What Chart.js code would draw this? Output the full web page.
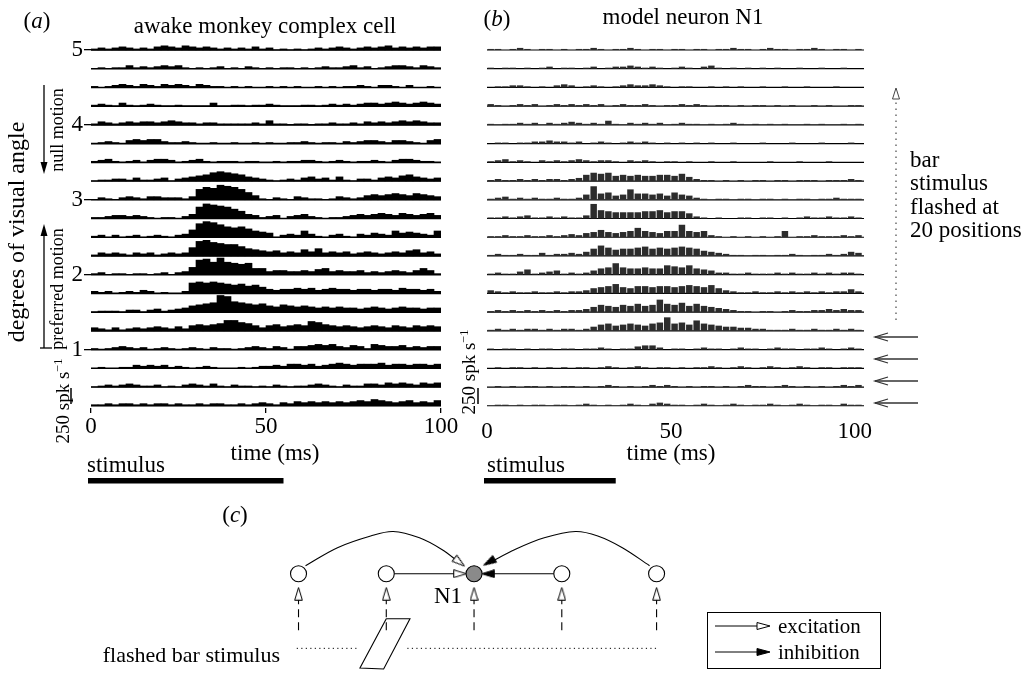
<!DOCTYPE html>
<html>
<head>
<meta charset="utf-8">
<script src="https://cdn.jsdelivr.net/npm/chart.js@4.4.1/dist/chart.umd.min.js"></script>
<style>
body { margin: 0; background: #fff; width: 1029px; height: 679px; position: relative; overflow: hidden;
       font-family: "Liberation Serif", "Times New Roman", serif; color: #000; }
canvas { position: absolute; }
.lbl { position: absolute; white-space: nowrap; line-height: 1.15; }
.lbl sup { font-size: 0.65em; vertical-align: 0.55em; line-height: 0; }
svg { position: absolute; left: 0; top: 0; }
</style>
</head>
<body>
<canvas id="chartA" width="470" height="500" style="left:0;top:0"></canvas>
<canvas id="chartB" width="410" height="500" style="left:470px;top:0"></canvas>
<canvas id="chartC" width="751" height="179" style="left:149px;top:500px"></canvas>

<svg width="1029" height="679">
  <!-- null / preferred motion arrows -->
  <line x1="44" y1="85" x2="44" y2="164" stroke="#000" stroke-width="1.3"/>
  <polygon points="40.5,162 47.5,162 44,174" fill="#000"/>
  <line x1="44" y1="348" x2="44" y2="234" stroke="#000" stroke-width="1.3"/>
  <polygon points="40.5,236 47.5,236 44,224" fill="#000"/>
  <line x1="40" y1="348" x2="52" y2="348" stroke="#000" stroke-width="1.3"/>
  <!-- 250 spk/s scale bars -->
  <line x1="71" y1="388" x2="71" y2="404" stroke="#000" stroke-width="1.5"/>
  <line x1="478" y1="388" x2="478" y2="404" stroke="#000" stroke-width="1.5"/>
  <!-- dotted arrow: bar flashed at 20 positions -->
  <line x1="896" y1="320" x2="896" y2="96" stroke="#555" stroke-width="1.3" stroke-dasharray="1.5 4.5"/>
  <polygon points="892.5,99 896,88 899.5,99" fill="#fff" stroke="#444" stroke-width="1"/>
  <!-- arrows pointing at the four flanking rows -->
  <g stroke="#333" stroke-width="1.3" fill="none">
    <line x1="875" y1="337" x2="918" y2="337"/><polyline points="888,333 875,337 888,341"/>
    <line x1="875" y1="359" x2="918" y2="359"/><polyline points="888,355 875,359 888,363"/>
    <line x1="875" y1="381" x2="918" y2="381"/><polyline points="888,377 875,381 888,385"/>
    <line x1="875" y1="403" x2="918" y2="403"/><polyline points="888,399 875,403 888,407"/>
  </g>
  <!-- legend of panel c -->
  <rect x="707.5" y="612.5" width="173" height="56" fill="none" stroke="#000" stroke-width="1"/>
  <line x1="715" y1="626" x2="758" y2="626" stroke="#000" stroke-width="1"/>
  <polygon points="757,622.5 770,626 757,629.5" fill="#fff" stroke="#000" stroke-width="1"/>
  <line x1="715" y1="652" x2="758" y2="652" stroke="#000" stroke-width="1"/>
  <polygon points="757,648.5 770,652 757,655.5" fill="#000" stroke="#000" stroke-width="1"/>
</svg>

<script>
// ---------------- data ----------------
const binMs = 2;                       // PSTH bin width (ms)
const positionsDeg = [5.00, 4.75, 4.50, 4.25, 4.00, 3.75, 3.50, 3.25, 3.00, 2.75,
                      2.50, 2.25, 2.00, 1.75, 1.50, 1.25, 1.00, 0.75, 0.50, 0.25];
const timeTicks = [0, 50, 100];
const degreeTicks = [1, 2, 3, 4, 5];
const stimulusA = [0, 55];             // stimulus on/off (ms)
const stimulusB = [0, 35];

// (a) awake monkey complex cell, firing rate (spk/s) per 2 ms bin, one array per bar position
const mk500 = [15,30,15,30,45,30,15,30,15,45, 60,45,30,60,45,30,45,30,15,30, 15,30,15,45,15,30,0,15,0,15, 0,15,30,15,30,45,30,15,30,45, 30,45,60,30,45,30,45,30,45,45];
const mk475 = [0,15,0,15,15,45,15,30,15,30, 45,30,45,15,0,15,0,15,30,0, 15,0,30,15,0,15,0,15,15,0, 15,0,15,30,15,15,30,45,15,30, 0,15,30,45,45,30,15,45,30,15];
const mk450 = [15,0,15,30,45,30,15,45,30,15, 45,30,45,30,15,45,30,15,15,0, 15,0,15,0,0,15,0,15,0,15, 0,0,15,0,15,0,15,15,30,15, 0,30,30,15,0,30,0,0,15,0];
const mk425 = [15,30,15,0,45,15,0,15,30,15, 0,0,15,0,0,0,0,45,0,0, 15,15,0,15,15,30,15,0,0,0, 15,15,0,15,30,15,30,15,30,45, 45,30,45,60,45,30,45,60,45,30];
const mk400 = [15,45,30,15,30,45,30,45,45,30, 45,60,45,30,30,15,30,30,15,15, 15,15,15,30,15,60,15,15,0,15, 15,0,15,15,30,15,15,30,15,45, 30,45,30,45,60,45,60,45,30,30];
const mk375 = [0,15,30,15,0,45,60,45,60,60, 30,15,15,30,15,0,0,15,0,0, 15,0,0,15,0,15,0,0,15,15, 30,15,0,15,15,0,30,15,30,45, 45,30,15,45,45,30,15,0,45,60];
const mk350 = [15,30,45,15,0,15,30,0,30,45, 45,30,0,15,30,45,15,0,15,15, 15,0,15,15,0,0,15,0,15,15, 30,30,15,0,15,30,15,0,15,15, 30,15,0,30,45,45,30,15,15,0];
const mk325 = [0,15,15,30,30,15,45,15,15,30, 45,0,30,45,60,75,90,120,135,120, 105,90,60,45,30,15,0,15,30,15, 45,60,30,45,15,60,15,0,30,30, 15,45,60,45,75,90,60,45,30,45];
const mk300 = [0,30,15,0,30,45,30,15,45,45, 30,30,30,15,45,150,180,165,210,195, 180,150,105,60,15,0,30,15,0,45, 30,15,15,0,15,45,30,15,30,60, 75,60,75,90,75,60,90,75,60,45];
const mk275 = [15,15,30,45,45,30,45,30,15,0, 15,15,0,30,60,165,210,195,180,165, 135,105,60,45,15,30,45,0,30,45, 60,30,15,0,15,15,30,45,60,45, 60,75,60,45,75,60,45,60,75,45];
const mk250 = [15,30,0,30,0,15,30,0,15,30, 15,0,30,45,105,195,225,210,180,150, 135,150,120,90,75,60,0,30,45,30, 90,45,15,0,30,45,15,0,45,30, 60,45,30,90,60,75,60,45,30,90];
const mk225 = [15,45,30,45,30,15,45,30,45,15, 30,45,30,45,120,210,225,195,180,165, 165,135,105,90,75,60,75,45,60,45, 90,60,105,45,60,45,60,30,45,60, 45,30,45,60,45,75,90,45,60,30];
const mk200 = [15,30,0,15,15,0,15,15,0,15, 30,0,30,45,105,210,225,180,240,180, 165,150,165,90,90,45,60,60,45,45, 60,45,75,90,45,60,45,45,60,30, 45,30,45,60,45,30,60,90,60,15];
const mk175 = [30,15,30,0,15,30,15,45,30,0, 15,0,0,30,150,165,150,165,150,135, 120,135,105,120,90,60,45,60,60,75, 60,75,45,60,75,60,60,45,60,60, 45,60,60,45,75,60,60,45,60,30];
const mk150 = [0,15,15,15,0,30,30,0,30,45, 15,30,45,60,90,105,120,135,240,225, 150,135,120,105,120,90,75,105,90,75, 90,75,60,75,60,75,60,60,45,60, 75,60,45,60,75,60,60,45,60,60];
const mk125 = [45,30,15,45,15,30,45,30,45,60, 45,30,60,30,75,90,75,90,105,150, 150,120,105,75,45,75,90,60,75,90, 75,135,120,90,75,60,75,60,45,60, 75,60,45,75,60,45,75,60,75,60];
const mk100 = [15,0,15,30,45,30,15,30,0,15, 30,15,0,15,30,15,0,30,15,15, 0,15,30,45,30,15,45,30,0,45, 45,60,75,60,75,45,30,60,45,15, 75,60,45,45,60,30,45,30,45,45];
const mk075 = [0,15,0,0,15,15,45,30,45,30, 45,15,30,15,0,15,30,15,0,0, 0,15,0,15,30,30,45,30,60,60, 45,60,30,45,60,75,60,45,60,60, 60,75,45,60,60,45,60,60,45,60];
const mk050 = [0,15,30,15,30,45,30,15,15,30, 0,15,0,30,45,30,15,45,15,0, 30,15,15,0,15,0,30,15,0,15, 15,30,45,30,15,0,30,15,15,45, 45,30,60,45,60,45,30,60,45,60];
const mk025 = [15,15,30,15,30,30,15,30,15,30, 30,15,30,15,15,30,15,30,30,15, 15,30,15,30,45,30,15,45,30,60, 45,60,45,60,45,60,45,60,75,60, 90,75,60,45,60,75,45,60,45,75];

// (b) model neuron N1, firing rate (spk/s) per 2 ms bin (0-102 ms)
const md500 = [15,15,0,15,30,15,0,15,15,0, 15,0,15,15,30,15,0,15,15,30, 15,0,15,15,0,15,15,0,15,15, 0,15,15,30,15,15,0,15,30,15, 15,0,15,15,30,15,0,15,15,0, 15];
const md475 = [15,0,15,15,0,15,0,15,30,0, 15,15,0,15,30,0,15,30,30,45, 30,15,30,15,0,15,30,15,0,30, 45,15,0,15,0,15,0,15,0,15, 0,0,15,0,0,15,0,0,15,0, 0];
const md450 = [0,15,15,30,30,15,0,15,0,30, 45,30,0,15,30,15,0,15,30,45, 30,30,45,30,15,0,15,15,0,0, 15,0,15,0,15,0,0,15,0,0, 15,0,0,15,0,0,0,15,0,0, 0];
const md425 = [30,15,0,15,30,15,30,0,15,30, 15,30,15,30,15,30,0,15,30,15, 15,30,15,0,15,15,30,15,30,15, 0,15,15,0,15,0,15,15,0,15, 0,15,0,0,15,0,15,0,0,15, 15];
const md400 = [15,0,15,15,30,15,30,0,30,15, 30,45,30,15,30,15,60,15,0,30, 15,30,15,30,0,15,30,15,15,0, 15,0,15,30,15,0,15,0,15,0, 15,0,0,15,0,15,0,0,15,0, 15];
const md375 = [0,15,15,0,15,15,30,30,45,30, 30,15,30,0,15,30,15,0,15,30, 15,30,15,0,15,0,15,0,15,0, 15,0,0,15,0,0,0,15,0,0, 0,15,0,0,0,15,0,0,0,15, 0];
const md350 = [15,30,45,15,30,15,0,30,15,30, 15,30,45,30,15,30,30,15,0,30, 15,30,15,0,15,15,0,15,0,0, 15,0,0,15,0,0,0,0,15,0, 0,0,15,0,0,0,15,0,0,0, 0];
const md325 = [15,30,15,15,30,15,30,15,30,30, 15,30,45,90,120,105,120,75,90,75, 90,75,75,90,90,75,105,60,30,15, 15,0,15,0,15,0,15,15,0,15, 15,0,15,15,15,0,15,15,15,30, 15];
const md300 = [15,30,45,15,30,15,30,15,15,30, 15,15,30,75,195,90,105,60,75,150, 90,90,75,90,60,105,75,60,30,15, 0,15,15,0,15,15,0,15,15,0, 15,0,15,15,0,15,15,30,15,15, 15];
const md275 = [15,15,30,15,30,45,15,15,30,15, 30,15,15,45,210,120,105,90,90,90, 90,105,105,120,90,105,105,75,30,15, 0,15,0,0,15,15,0,15,15,0, 15,0,15,30,15,15,30,15,15,30, 15];
const md250 = [15,15,30,15,15,30,15,15,30,15, 30,45,30,60,75,105,75,60,75,90, 135,90,75,60,90,90,180,90,75,90, 30,15,0,15,0,15,0,15,0,15, 90,0,15,15,30,15,15,15,30,15, 30];
const md225 = [15,30,15,15,30,15,15,45,15,30, 30,45,30,60,105,150,120,90,105,105, 120,135,105,120,105,120,135,120,105,75, 60,45,30,15,15,0,15,15,0,15, 15,30,15,0,15,15,30,15,30,60, 45];
const md200 = [15,30,15,15,45,75,15,30,45,60, 15,30,15,30,60,90,105,165,105,90, 90,105,90,90,135,120,105,135,90,75, 60,30,30,15,15,30,15,15,15,30, 15,30,15,15,30,15,30,15,30,30, 15];
const md175 = [45,30,15,30,15,15,30,15,15,30, 15,30,30,45,75,90,105,135,90,75, 105,105,90,105,105,90,105,120,105,90, 120,75,45,30,15,15,30,15,15,30, 15,30,15,30,15,30,15,30,30,60, 30];
const md150 = [15,30,15,30,15,30,15,30,15,30, 15,30,30,45,75,105,90,75,105,90, 120,90,105,180,120,105,135,90,120,90, 75,60,45,30,15,15,0,15,15,0, 15,30,15,15,30,30,45,30,45,30, 30];
const md125 = [15,30,15,30,15,30,30,15,30,15, 30,30,15,30,60,90,105,75,90,105, 90,75,105,120,195,105,120,90,150,105, 90,75,60,60,45,45,30,30,15,15, 15,30,15,15,30,15,15,30,15,30, 15];
const md100 = [15,0,15,15,0,15,0,15,15,0, 15,15,0,15,15,30,15,0,15,15, 45,60,60,30,0,15,15,0,15,30, 15,15,0,15,30,15,15,0,15,30, 15,15,0,15,15,30,15,0,15,30, 15];
const md075 = [0,15,0,15,15,0,15,0,15,0, 15,0,15,15,0,15,30,15,0,15, 30,15,0,15,15,0,15,0,15,15, 30,15,0,15,30,15,0,15,30,15, 0,15,30,15,0,15,15,0,15,15, 15];
const md050 = [0,15,0,15,0,15,15,0,15,0, 15,15,0,15,0,15,30,15,0,15, 0,15,30,15,30,15,0,15,0,15, 15,0,15,0,15,30,15,15,0,15, 30,15,0,15,0,15,0,15,30,15, 30];
const md025 = [0,15,15,0,15,0,15,15,0,15, 15,0,15,30,15,0,15,0,15,30, 15,0,30,45,30,15,15,0,15,30, 15,0,15,30,15,0,15,15,30,15, 0,15,30,15,0,15,15,0,30,15, 15];

const monkeyRows = [mk500, mk475, mk450, mk425, mk400, mk375, mk350, mk325, mk300, mk275,
                    mk250, mk225, mk200, mk175, mk150, mk125, mk100, mk075, mk050, mk025];
const modelRows  = [md500, md475, md450, md425, md400, md375, md350, md325, md300, md275,
                    md250, md225, md200, md175, md150, md125, md100, md075, md050, md025];

// (c) circuit diagram, x in node spacings from N1, y in node-row units
const nodeX = [-2, -1, 0, 1, 2.08];
const nodeY = [0, 0, 0, 0, 0];
const excArcX = [-1.92, -1.556, -1.178, -0.922, -0.622, -0.367, -0.16];
const excArcY = [0.18, 0.58, 0.84, 0.94, 0.80, 0.54, 0.24];
const inhArcX = [0.18, 0.467, 0.80, 1.156, 1.41, 1.69, 2.0];
const inhArcY = [0.25, 0.54, 0.80, 0.94, 0.84, 0.58, 0.18];
const excLineX = [-0.91, -0.16];
const inhLineX = [0.91, 0.16];
const inputTopY = -0.5;
const inputBottomY = -1.32;
const stimLineY = -1.66;
const stimLeftX = [-2.02, -1.34];
const stimRightX = [-0.76, 2.11];
const barShapeX = [-1.0, -0.73, -1.03, -1.3, -1.0];
const barShapeY = [-1.0, -1.0, -2.12, -2.1, -1.0];

// ---------------- helpers ----------------
const SERIF = "'Liberation Serif', 'Times New Roman', serif";
const SPK_PER_ROW = 270;               // rate that spans one row spacing (0.25 deg)

function histogramPoints(rows)
{
    const pts = [];
    rows.forEach((vals, i) => {
        const base = positionsDeg[i];
        vals.forEach((v, k) => {
            pts.push({ x: k * binMs + binMs / 2, y: [base, base + v / SPK_PER_ROW * 0.25] });
        });
    });
    return pts;
}

function baselinePoints(xEnd)
{
    const pts = [];
    positionsDeg.forEach(base => {
        pts.push({ x: 0, y: base }, { x: xEnd, y: base }, { x: xEnd, y: null });
    });
    return pts;
}

function stimulusPlugin(stim)
{
    return {
        id: "stimulusBar",
        afterDraw(chart)
        {
            const x = chart.scales.x;
            const ctx = chart.ctx;
            const x0 = x.getPixelForValue(stim[0]) - 3;
            const x1 = x.getPixelForValue(stim[1]);
            ctx.save();
            ctx.fillStyle = "#000";
            ctx.fillRect(x0, 478, x1 - x0, 5.5);
            ctx.restore();
        }
    };
}

function psthChart(canvasId, rows, xMax, stim, opts)
{
    return new Chart(document.getElementById(canvasId), {
        type: "bar",
        data: {
            datasets: [
                {
                    type: "bar",
                    data: histogramPoints(rows),
                    backgroundColor: opts.barColor,
                    borderWidth: 0,
                    barPercentage: opts.barPct,
                    categoryPercentage: 1,
                    grouped: false
                },
                {
                    type: "line",
                    data: baselinePoints(xMax),
                    borderColor: "#000",
                    borderWidth: opts.lineWidth,
                    pointRadius: 0,
                    spanGaps: false
                }
            ]
        },
        options: {
            responsive: false,
            animation: false,
            events: [],
            layout: { padding: opts.padding },
            plugins: { legend: { display: false }, tooltip: { enabled: false } },
            scales: {
                x: {
                    type: "linear",
                    min: 0,
                    max: xMax,
                    offset: false,
                    afterBuildTicks: s => { s.ticks = timeTicks.map(v => ({ value: v })); },
                    afterFit: s => { s.height = 60; },
                    border: { display: false },
                    grid: {
                        display: opts.xTickMarks,
                        offset: false,
                        drawOnChartArea: false,
                        tickLength: 5,
                        color: "#000",
                        lineWidth: 1.3
                    },
                    ticks: {
                        color: "#000",
                        padding: opts.xTickPad,
                        maxRotation: 0,
                        font: { family: SERIF, size: 23 }
                    }
                },
                y: {
                    type: "linear",
                    min: 0.22,
                    max: 5.12,
                    display: opts.showY,
                    afterBuildTicks: s => { s.ticks = degreeTicks.map(v => ({ value: v })); },
                    afterFit: s => { s.width = opts.showY ? 91 : 0; },
                    border: { display: false },
                    grid: { drawOnChartArea: false, tickLength: 7, color: "#000", lineWidth: 1.3 },
                    ticks: { color: "#000", padding: 1, font: { family: SERIF, size: 23 } }
                }
            }
        },
        plugins: [stimulusPlugin(stim)]
    });
}

psthChart("chartA", monkeyRows, 100, stimulusA, {
    lineWidth: 1.6, barColor: "#000", barPct: 1, xTickMarks: true, xTickPad: 0, showY: true,
    padding: { left: 0, right: 29, top: 41, bottom: 32 }
});

psthChart("chartB", modelRows, 102.5, stimulusB, {
    lineWidth: 1.2, barColor: "#2c2c2c", barPct: 0.88, xTickMarks: false, xTickPad: 5, showY: false,
    padding: { left: 17, right: 16, top: 41, bottom: 32 }
});

// ---------------- panel c: circuit ----------------
function arrowHead(filled)
{
    const c = document.createElement("canvas");
    c.width = 9; c.height = 14;
    const g = c.getContext("2d");
    g.beginPath();
    g.moveTo(4.5, 0.7);
    g.lineTo(8.3, 13.3);
    g.lineTo(0.7, 13.3);
    g.closePath();
    g.fillStyle = filled ? "#000" : "#fff";
    g.fill();
    g.lineWidth = 1;
    g.strokeStyle = "#000";
    g.stroke();
    return c;
}
const openHead = arrowHead(false);
const solidHead = arrowHead(true);

const xy = (xs, ys) => xs.map((x, i) => ({ x, y: Array.isArray(ys) ? ys[i] : ys }));
const line = (data, extra) => Object.assign({
    type: "line", data, showLine: true, borderColor: "#000", borderWidth: 1.1,
    pointRadius: 0, tension: 0, fill: false
}, extra);

// first dataset is drawn on top: neurons, then arrow heads, then connections
const circuitSets = [];
circuitSets.push({
    type: "scatter",
    data: xy(nodeX, nodeY),
    pointStyle: "circle",
    pointRadius: 8,
    borderWidth: 1.1,
    borderColor: "#000",
    backgroundColor: nodeX.map(x => x === 0 ? "#8a8a8a" : "#fff")
});
circuitSets.push({
    type: "scatter",
    data: [
        { x: -0.166, y: 0.258 },
        { x: -0.159, y: 0 }
    ].concat(nodeX.map(x => ({ x, y: -0.446 }))),
    pointStyle: openHead,
    rotation: [128, 90, 0, 0, 0, 0, 0],
    pointRadius: 7
});
circuitSets.push({
    type: "scatter",
    data: [
        { x: 0.172, y: 0.26 },
        { x: 0.159, y: 0 }
    ],
    pointStyle: solidHead,
    rotation: [240, 270],
    pointRadius: 7
});
circuitSets.push(line(xy(excArcX, excArcY), { tension: 0.35 }));
circuitSets.push(line(xy(inhArcX, inhArcY), { tension: 0.35 }));
circuitSets.push(line(xy(excLineX, 0)));
circuitSets.push(line(xy(inhLineX, 0)));
nodeX.forEach(x => {
    circuitSets.push(line(xy([x, x], [inputTopY, inputBottomY]), { borderDash: [8, 5] }));
});
circuitSets.push(line(xy(stimLeftX, stimLineY), { borderDash: [1.2, 3.3], borderWidth: 1 }));
circuitSets.push(line(xy(stimRightX, stimLineY), { borderDash: [1.2, 3.3], borderWidth: 1 }));
circuitSets.push(line(xy(barShapeX, barShapeY), { borderWidth: 1.1 }));

new Chart(document.getElementById("chartC"), {
    type: "scatter",
    data: { datasets: circuitSets },
    options: {
        responsive: false,
        animation: false,
        events: [],
        layout: { padding: 0 },
        plugins: { legend: { display: false }, tooltip: { enabled: false } },
        scales: {
            x: { type: "linear", min: -3.6, max: 4.75, display: false },
            y: { type: "linear", min: -2.14, max: 1.44, display: false }
        }
    }
});

// ---------------- text ----------------
function label(html, x, y, size, how)
{
    const d = document.createElement("div");
    d.className = "lbl";
    d.innerHTML = html;
    d.style.left = x + "px";
    d.style.top = y + "px";
    d.style.fontSize = size + "px";
    if (how === "left") d.style.transform = "translate(0,-50%)";
    else if (how === "right") d.style.transform = "translate(-100%,-50%)";
    else if (how === "rot") d.style.transform = "translate(-50%,-50%) rotate(-90deg)";
    else d.style.transform = "translate(-50%,-50%)";
    document.body.appendChild(d);
}

label("(<i>a</i>)", 37, 21, 23);
label("awake monkey complex cell", 265, 26, 23);
label("degrees of visual angle", 17, 232, 24, "rot");
label("null motion", 57, 130, 18, "rot");
label("preferred motion", 57, 289, 18, "rot");
label("250 spk s<sup>−1</sup>", 63, 401, 19, "rot");
label("time (ms)", 275, 453, 23);
label("stimulus", 87, 465, 23, "left");

label("(<i>b</i>)", 497, 19, 23);
label("model neuron N1", 683, 17, 23);
label("250 spk s<sup>−1</sup>", 469, 372, 19, "rot");
label("time (ms)", 671, 453, 23);
label("stimulus", 487, 465, 23, "left");
label("bar", 910, 160, 23, "left");
label("stimulus", 910, 183, 23, "left");
label("flashed at", 910, 207, 23, "left");
label("20 positions", 910, 230, 23, "left");

label("(<i>c</i>)", 235, 515, 23);
label("N1", 448, 596, 23);
label("flashed bar stimulus", 280, 655, 22, "right");
label("excitation", 778, 626, 21, "left");
label("inhibition", 778, 652, 21, "left");
</script>
</body>
</html>
